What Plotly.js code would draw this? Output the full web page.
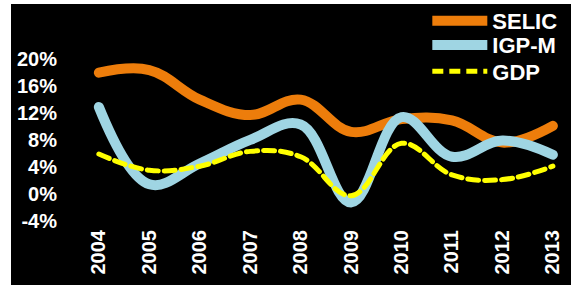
<!DOCTYPE html>
<html>
<head>
<meta charset="utf-8">
<script src="https://cdn.plot.ly/plotly-3.0.1.min.js"></script>
<style>
html,body{margin:0;padding:0;background:#fff;width:571px;height:285px;overflow:hidden;}
#chart{position:absolute;left:11px;top:0px;width:560px;height:285px;}
#topband{position:absolute;left:0;top:0;width:571px;height:4px;background:#fff;z-index:10;}
.scatterlayer path.js-line{stroke-linecap:round;}
</style>
</head>
<body>
<div id="chart"></div>
<div id="topband"></div>
<script>
var years = ['2004','2005','2006','2007','2008','2009','2010','2011','2012','2013'];
var selic = [18.0, 18.4, 14.0, 11.7, 14.0, 9.2, 11.1, 10.9, 7.6, 10.1];
var igpm  = [12.9, 1.4, 4.5, 8.0, 10.3, -1.3, 11.4, 5.5, 7.9, 5.8];
var gdp   = [5.9, 3.5, 4.1, 6.3, 5.5, -0.3, 7.5, 2.8, 2.1, 4.1];
var yTickVals = [-4, 0, 4, 8, 12, 16, 20];
var yTickText = ['-4%', '0%', '4%', '8%', '12%', '16%', '20%'];

var font = {family: 'Liberation Sans, Arial, sans-serif', color: '#ffffff', size: 20, weight: 'bold'};
var legFont = {family: 'Liberation Sans, Arial, sans-serif', color: '#ffffff', size: 22, weight: 'bold'};

var traces = [
  {x: years, y: selic, name: 'SELIC', type: 'scatter', mode: 'lines', legend: 'legend',
   line: {color: '#ED7D0B', width: 10, shape: 'spline', smoothing: 1.1}},
  {x: years, y: igpm, name: 'IGP-M', type: 'scatter', mode: 'lines', legend: 'legend2',
   line: {color: '#9FD5E3', width: 10, shape: 'spline', smoothing: 1.1}},
  {x: years, y: gdp, name: 'GDP', type: 'scatter', mode: 'lines', legend: 'legend3',
   line: {color: '#FFFF00', width: 5, shape: 'spline', smoothing: 1.1, dash: '11px,6px'}}
];

function leg(yc) {
  return {x: 0.727, y: yc, xanchor: 'left', yanchor: 'middle',
          bgcolor: 'rgba(0,0,0,0)', font: legFont, itemwidth: 55};
}

var layout = {
  width: 560, height: 285,
  paper_bgcolor: '#000000', plot_bgcolor: '#000000',
  margin: {l: 47, r: 5, t: 0, b: 60},
  font: font,
  showlegend: true,
  legend: leg(1 - 16 / 225),
  legend2: leg(1 - 41 / 225),
  legend3: leg(1 - 68 / 225),
  xaxis: {type: 'category', range: [-0.81, 9.26], showgrid: false, zeroline: false, showline: false,
          ticks: '', tickangle: -90, tickfont: font, fixedrange: true},
  yaxis: {range: [-4.65, 28.07], tickvals: yTickVals, ticktext: yTickText, showgrid: false,
          zeroline: false, showline: false, ticks: '', tickfont: font, fixedrange: true}
};

Plotly.newPlot('chart', traces, layout, {displayModeBar: false, staticPlot: true});
</script>
</body>
</html>
